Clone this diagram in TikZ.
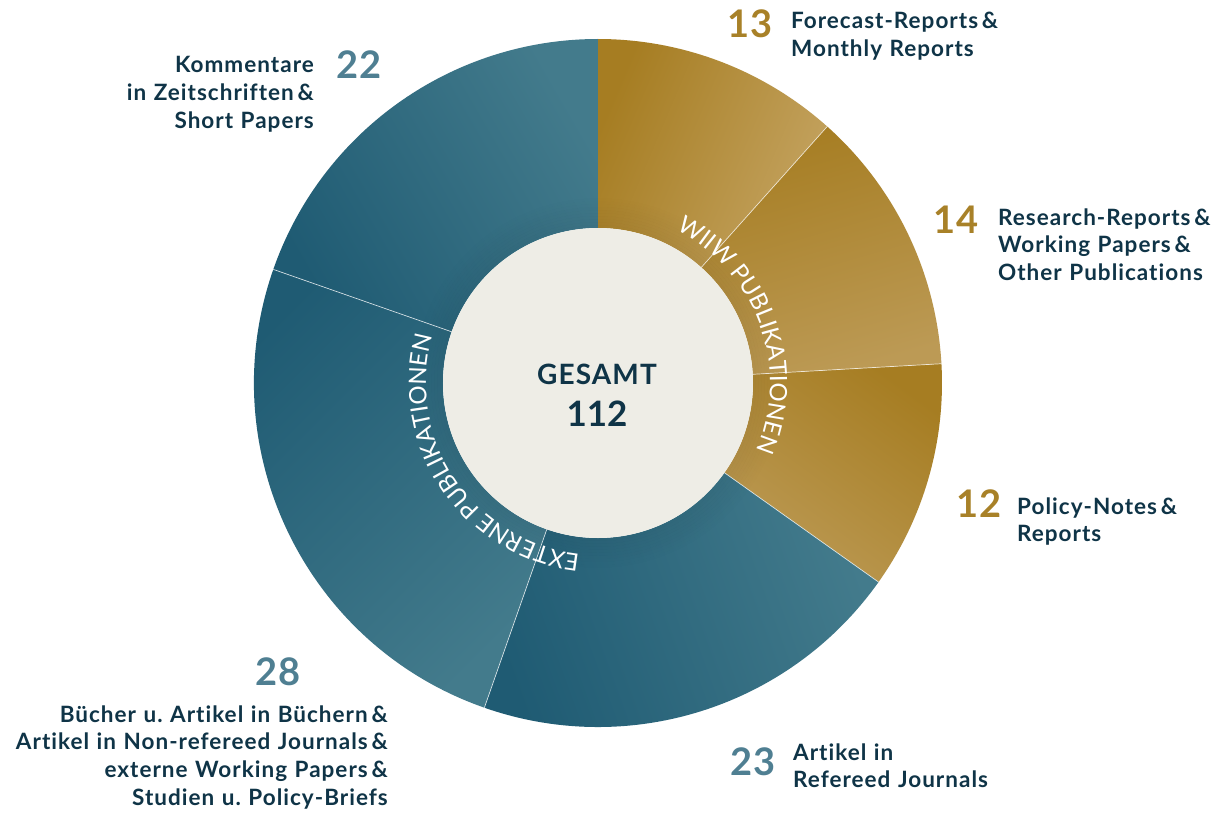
\documentclass[tikz,border=0pt]{standalone}
\usepackage{fontspec}
\setmainfont{Lato}[Ligatures=NoCommon]
\frenchspacing
\usetikzlibrary{decorations.text}
\definecolor{navy}{HTML}{0F3447}
\definecolor{gD}{HTML}{A67D22}
\definecolor{gL}{HTML}{C4A360}
\definecolor{gM}{HTML}{BC9A55}
\definecolor{bD}{HTML}{1F5B73}
\definecolor{bL}{HTML}{437B8C}
\definecolor{centerbg}{HTML}{EEEDE6}
\definecolor{goldnum}{HTML}{A88128}
\definecolor{bluenum}{HTML}{4F7F92}
\newcommand\labfont{\fontsize{22.5}{27.7}\bfseries\selectfont\addfontfeatures{LetterSpace=4.5}}
\newcommand\numfont{\fontsize{38}{38}\bfseries\selectfont\addfontfeatures{LetterSpace=4}}
\newcommand\arcfont{\fontsize{24}{24}\selectfont}
\newcommand\ringseg[5]{\shade[top color=#3, bottom color=#4, shading angle=#5]
  (#1:155pt) arc[start angle=#1, end angle=#2, radius=155pt] --
  (#2:344pt) arc[start angle=#2, end angle=#1, radius=344pt] -- cycle;}
\tikzset{
  lab/.style={font=\labfont, text=navy, inner sep=0pt, text width=420pt},
  labL/.style={lab, align=left, anchor=base west},
  labR/.style={lab, align=right, anchor=base east},
  num/.style={font=\numfont, inner sep=0pt},
  divider/.style={white, line width=0.7pt, opacity=0.75},
  arctext/.style={decorate, decoration={text along path, text align=center, text color=white}}
}
\begin{document}
\begin{tikzpicture}[x=1pt,y=1pt]
\useasboundingbox (-598,-429) rectangle (631,383);
\fill[white] (-598,-429) rectangle (631,383);
% segments
\ringseg{90}{48.214}{gD}{gL}{67}
\ringseg{48.214}{3.214}{gD}{gM}{16}
\ringseg{3.214}{-35.357}{gD}{gM}{-36}
\ringseg{-35.357}{-109.286}{bD}{bL}{110}
\ringseg{-109.286}{-199.286}{bD}{bL}{45}
\ringseg{-199.286}{-270}{bD}{bL}{120}
% soft shadow around the centre
\foreach \i in {0,...,9}
  \draw[black, opacity={0.045*(1-\i/10)}, line width=3pt] (0,0) circle[radius={(156.5+3*\i)*1pt}];
% dividers
\foreach \a in {48.214,3.214,-35.357,-109.286,160.714}
  \draw[divider] (\a:155pt) -- (\a:344pt);
% centre
\node[circle, fill=centerbg, minimum size=310pt, inner sep=0pt] (centre) at (0,0) {};
\node[font=\fontsize{28}{28}\bfseries\selectfont\addfontfeatures{LetterSpace=4}, text=navy, inner sep=0pt, anchor=base] (gesamt) at (-1,-1) {GESAMT};
\node[font=\fontsize{35}{35}\bfseries\selectfont, text=navy, inner sep=0pt, anchor=base] (total) at (-1,-43) {112};
% curved texts
\path[arctext, decoration={text={|\arcfont|WIIW PUBLIKATIONEN}}]
  (80:172pt) arc[start angle=80, end angle=-40, radius=172pt];
\path[arctext, decoration={text={|\arcfont|EXTERNE PUBLIKATIONEN}}]
  (-76:172pt) arc[start angle=-76, end angle=-216, radius=172pt];
% labels
\node[num, text=goldnum, anchor=base east] (n13) at (175,345) {13};
\node[labL] (t13) at (193,354) {Forecast-Reports\,\&\\Monthly Reports};
\node[num, text=goldnum, anchor=base east] (n14) at (381,150) {14};
\node[labL] (t14) at (400,158) {Research-Reports\,\&\\Working Papers\,\&\\Other Publications};
\node[num, text=goldnum, anchor=base east] (n12) at (404,-134) {12};
\node[labL] (t12) at (419,-131) {Policy-Notes\,\&\\Reports};
\node[num, text=bluenum, anchor=base east] (n23) at (178,-392) {23};
\node[labL] (t23) at (195,-377) {Artikel in\\Refereed Journals};
\node[num, text=bluenum, anchor=base] (n28) at (-320,-302) {28};
\node[labR] (t28) at (-210,-339) {Bücher u. Artikel in Büchern\,\&\\Artikel in Non-refereed Journals\,\&\\externe Working Papers\,\&\\Studien u. Policy-Briefs};
\node[num, text=bluenum, anchor=base west] (n22) at (-262,305) {22};
\node[labR] (t22) at (-284,310) {Kommentare\\in Zeitschriften\,\&\\Short Papers};
\end{tikzpicture}
\end{document}
